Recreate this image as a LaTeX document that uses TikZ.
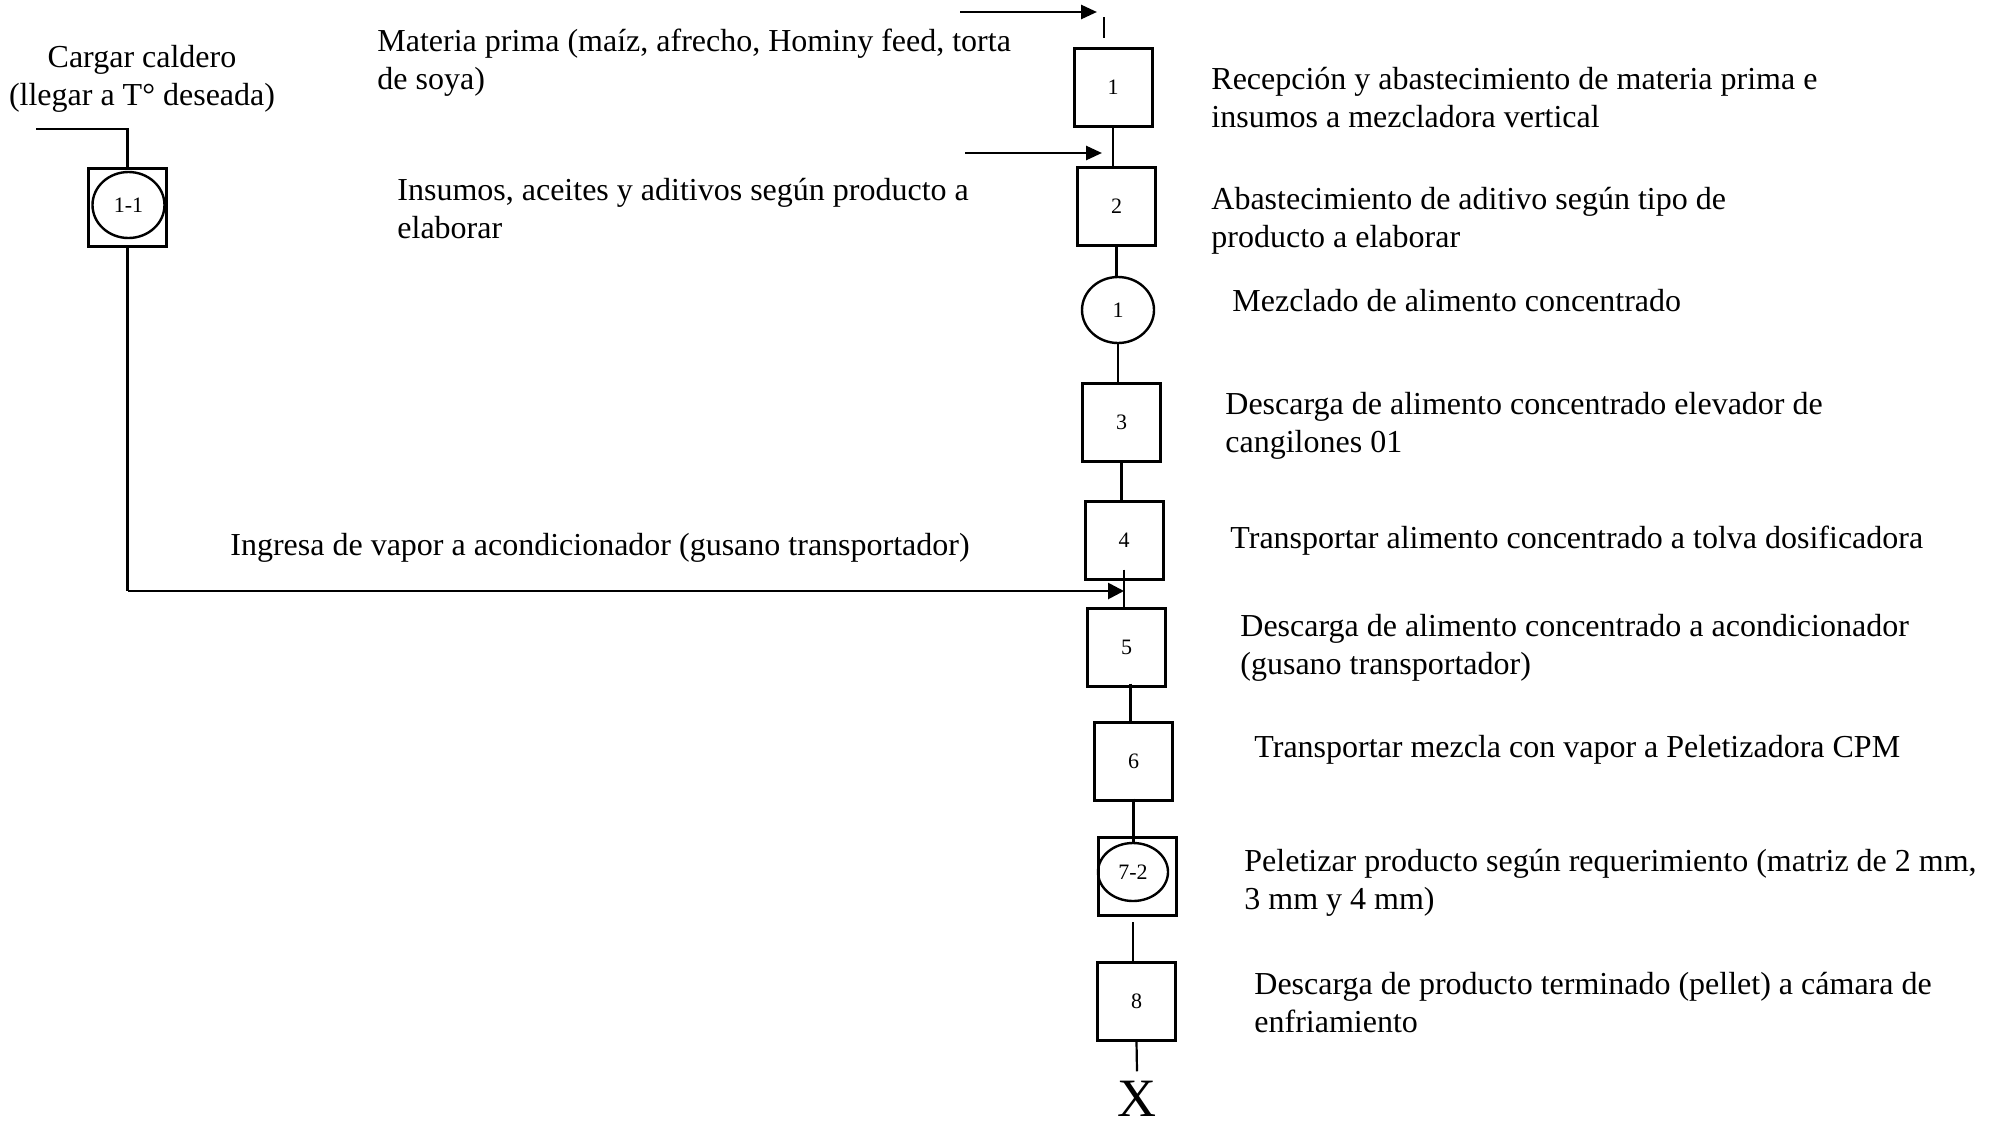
\documentclass[tikz,border=0pt]{standalone}
\usepackage{fontspec}
\setmainfont{Liberation Serif}
\usetikzlibrary{arrows.meta,calc,shapes.geometric}

\begin{document}
\begin{tikzpicture}[x=0.5pt,y=-0.5pt,
  every node/.style={inner sep=0pt, font=\fontsize{16}{19}\selectfont},
  txt/.style={anchor=base west, align=left},
  opbox/.style={draw, line width=1.5pt, minimum width=39pt, minimum height=39pt,
                font=\fontsize{11}{13}\selectfont},
  opcirc/.style={draw, ellipse, line width=1.2pt, minimum width=36pt, minimum height=33pt,
                font=\fontsize{11}{13}\selectfont},
  link/.style={line width=1.1pt},
  feed/.style={line width=1.35pt, -{Triangle[length=8pt,width=7pt]}}
]
\useasboundingbox (0,0) rectangle (1997,1120);

% main process line
\node[opbox] (b1) at (1113,87.5) {1};
\node[opbox] (b2) at (1116.5,206) {2};
\node[opcirc] (c1) at (1118,310) {1};
\node[opbox] (b3) at (1121.5,422) {3};
\node[opbox] (b4) at (1124,540) {4};
\node[opbox] (b5) at (1126.5,647) {5};
\node[opbox] (b6) at (1133.5,761) {6};
\node[opbox] (b72) at (1137,876.5) {};
\node[opcirc, minimum width=35pt, minimum height=29pt] (c72) at (1133,872) {7-2};
\node[opbox] (b8) at (1136.5,1001) {8};
\node[font=\fontsize{27}{30}\selectfont, anchor=base] (xend) at (1137,1116) {X};

% boiler branch
\node[opbox] (b11) at (127.5,207.5) {};
\node[opcirc] (c11) at (128.5,205) {1-1};

% inputs
\coordinate (a1s) at (960,12);
\coordinate (a1e) at (1097,12);
\coordinate (t1a) at (1104,17);
\coordinate (t1b) at (1104,38);
\coordinate (a2s) at (965,153);
\coordinate (a2e) at (1102,153);
\coordinate (cl) at (36,129);
\coordinate (st) at (127.5,591);

\draw[feed] (a1s) -- (a1e);
\draw[link] (t1a) -- (t1b);
\draw[feed] (a2s) -- (a2e);

% connectors between operations
\draw[link] (b1.south) -- (b1.south |- b2.north);
\draw[link] ([yshift=1pt]b2.south) -- (b2.south |- c1.north);
\draw[link] (c1.south) -- (c1.south |- b3.north);
\draw[link] (b3.south) -- (b3.south |- b4.north);
\draw[link] ([yshift=5.5pt]b4.south) -- (b4.south |- b5.north);
\draw[link] ([xshift=2pt,yshift=2pt]b5.south) -- ([xshift=2pt]b5.south |- b6.north);
\draw[line width=1.8pt] ([yshift=1.5pt]b6.south) -- (b6.south |- c72.north);
\draw[link] (c72.south |- b72.south) ++(0,5) -- (c72.south |- b8.north);
\draw[link] (b8.south) -- ([yshift=4.5pt]xend.north);

% steam line
\draw[link] (cl) -- (cl -| b11.north) -- (b11.north);
\draw[link] (b11.south) -- (st);
\draw[feed, -{Triangle[length=8pt,width=8pt]}] (st) -- (b4.south |- st);

% texts (multi-line nodes are placed by the baseline of their last line)
\node[align=center, anchor=base] (tcal) at (142,105) {Cargar caldero\\(llegar a T° deseada)};
\node[txt] (tmp) at (377,89) {Materia prima (maíz, afrecho, Hominy feed, torta\\de soya)};
\node[txt] (tins) at (397,238) {Insumos, aceites y aditivos según producto a\\elaborar};
\node[txt] (tvap) at (230,555) {Ingresa de vapor a acondicionador (gusano transportador)};

\node[txt] (d1) at (1211,127) {Recepción y abastecimiento de materia prima e\\insumos a mezcladora vertical};
\node[txt] (d2) at (1211,247) {Abastecimiento de aditivo según tipo de\\producto a elaborar};
\node[txt] (d3) at (1232,311) {Mezclado de alimento concentrado};
\node[txt] (d4) at (1225,452) {Descarga de alimento concentrado elevador de\\cangilones 01};
\node[txt] (d5) at (1230,548) {Transportar alimento concentrado a tolva dosificadora};
\node[txt] (d6) at (1240,674) {Descarga de alimento concentrado a acondicionador\\(gusano transportador)};
\node[txt] (d7) at (1254,757) {Transportar mezcla con vapor a Peletizadora CPM};
\node[txt] (d8) at (1244,909) {Peletizar producto según requerimiento (matriz de 2 mm,\\3 mm y 4 mm)};
\node[txt] (d9) at (1254,1032) {Descarga de producto terminado (pellet) a cámara de\\enfriamiento};
\end{tikzpicture}
\end{document}
